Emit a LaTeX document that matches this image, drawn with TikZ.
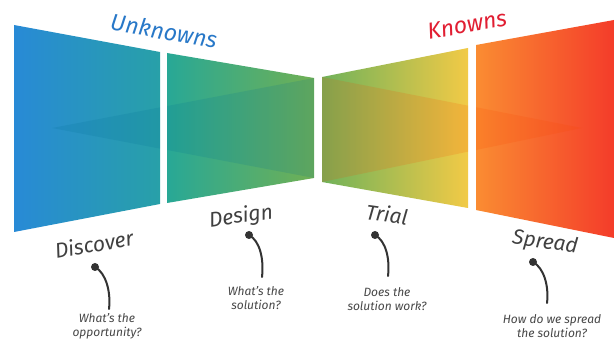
\documentclass[tikz,border=0pt]{standalone}
\usepackage{fontspec}
\setmainfont{Fira Sans}
\begin{document}
\begin{tikzpicture}[x=1pt,y=-1pt,
  stage/.style={font=\fontsize{21}{23}\selectfont\itshape\color{black!75}},
  note/.style={font=\fontsize{12}{14}\selectfont\itshape\color{black!72},align=center},
  stem/.style={draw=black!80,line width=2pt,line cap=round},
  pin/.style={circle,fill=black!80,inner sep=0pt,minimum size=8pt}]
\useasboundingbox (0,0) rectangle (614,342);
\fill[white] (0,0) rectangle (614,342);

% four funnel panels
\shade[left color={rgb,255:red,40;green,138;blue,214}, right color={rgb,255:red,40;green,160;blue,168}]
  (14,25) -- (160,52) -- (160,204) -- (14,232) -- cycle;
\shade[left color={rgb,255:red,40;green,168;blue,150}, right color={rgb,255:red,112;green,176;blue,84}]
  (167,53) -- (314,78) -- (314,178) -- (167,203) -- cycle;
\shade[left color={rgb,255:red,112;green,178;blue,90}, right color={rgb,255:red,242;green,202;blue,70}]
  (322,77) -- (468,48) -- (468,208) -- (322,182) -- cycle;
\shade[left color={rgb,255:red,250;green,140;blue,50}, right color={rgb,255:red,244;green,60;blue,42}]
  (476,45) -- (614,20) -- (614,238) -- (476,210) -- cycle;

% inner wedges
\begin{scope}
  \clip (14,25) -- (160,52) -- (160,204) -- (14,232) -- cycle
        (167,53) -- (314,78) -- (314,178) -- (167,203) -- cycle;
  \fill[fill={rgb,255:red,0;green,110;blue,150},fill opacity=0.16] (52,128) -- (314,78) -- (314,178) -- cycle;
\end{scope}
\begin{scope}
  \clip (322,77) -- (468,48) -- (468,208) -- (322,182) -- cycle
        (476,45) -- (614,20) -- (614,238) -- (476,210) -- cycle;
  \fill[fill={rgb,255:red,250;green,70;blue,0},fill opacity=0.16] (582,128) -- (322,77) -- (322,182) -- cycle;
\end{scope}

% headings
\node[rotate=-10, font=\fontsize{23}{25}\selectfont\itshape, text={rgb,255:red,40;green,120;blue,200}] (unk) at (164,31) {Unknowns};
\node[rotate=10, font=\fontsize{23}{25}\selectfont\itshape, text={rgb,255:red,225;green,30;blue,50}] (kn) at (467,25) {Knowns};

% stage labels
\node[stage, rotate=10] (disc) at (94,244) {Discover};
\node[stage, rotate=8] (des) at (241,217) {Design};
\node[stage, rotate=-8] (tri) at (387,214) {Trial};
\node[stage, rotate=-8] (spr) at (545,243) {Spread};

% pins and questions
\node[pin] (p1) at (95,267) {};
\node[note] (q1) at (107,326) {What's the\\opportunity?};
\draw[stem] (p1.center) .. controls (106,273) and (111,292) .. (109,309);

\node[pin] (p2) at (249,235) {};
\node[note] (q2) at (256,298) {What's the\\solution?};
\draw[stem] (p2.center) .. controls (260,241) and (264,259) .. (262,277);

\node[pin] (p3) at (375,235) {};
\node[note] (q3) at (387,299) {Does the\\solution work?};
\draw[stem] (p3.center) .. controls (386,241) and (390,259) .. (388,276);

\node[pin] (p4) at (533,262) {};
\node[note] (q4) at (552,326) {How do we spread\\the solution?};
\draw[stem] (p4.center) .. controls (544,268) and (549,286) .. (547,303);
\end{tikzpicture}
\end{document}
